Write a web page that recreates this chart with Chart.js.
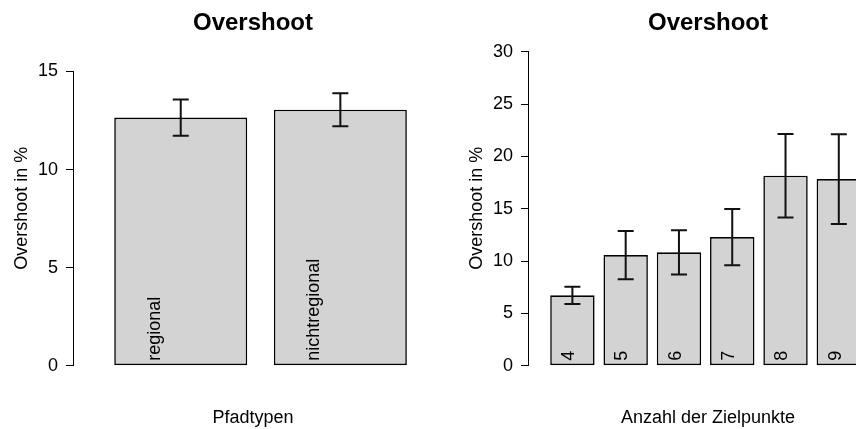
<!DOCTYPE html>
<html>
<head>
<meta charset="utf-8">
<script src="https://cdn.jsdelivr.net/npm/chart.js@4.4.0/dist/chart.umd.min.js"></script>
<style>
  html, body { margin: 0; padding: 0; background: #fff; overflow: hidden; width: 856px; height: 429px; }
  #left { position: absolute; left: 0; top: 0; }
  #right { position: absolute; left: 428px; top: 0; }
</style>
</head>
<body>
<canvas id="left" width="428" height="429"></canvas>
<canvas id="right" width="500" height="429"></canvas>
<script>
// left panel: Pfadtypen
const pathTypes = ["regional", "nichtregional"];
const pathMeans = [12.65, 13.05];
const pathErrors = [0.92, 0.84];
const pathTicks = [0, 5, 10, 15];

// right panel: Anzahl der Zielpunkte
const targetCounts = ["4", "5", "6", "7", "8", "9"];
const targetMeans = [6.72, 10.57, 10.83, 12.29, 18.15, 17.83];
const targetErrors = [0.83, 2.31, 2.12, 2.69, 3.99, 4.29];
const targetTicks = [0, 5, 10, 15, 20, 25, 30];

const FONT = "'Liberation Sans', Arial, Helvetica, sans-serif";
Chart.defaults.font.family = FONT;
Chart.defaults.color = "#000";

//error bars, labels inside the bars and the R style titles
const rPlot = {
    id: "rPlot",
    afterDatasetsDraw(chart, args, opts) {
        const ctx = chart.ctx;
        const y = chart.scales.y;
        const meta = chart.getDatasetMeta(0);
        const ds = chart.data.datasets[0];
        const y0 = y.getPixelForValue(0);
        ctx.save();
        ctx.fillStyle = "#000";
        ctx.font = "18px " + FONT;
        ctx.textAlign = "left";
        ctx.textBaseline = "alphabetic";
        meta.data.forEach((bar, i) => {
            ctx.save();
            ctx.translate(bar.x + opts.labelShift, y0 - 5);
            ctx.rotate(-Math.PI / 2);
            ctx.fillText(chart.data.labels[i], 0, 0);
            ctx.restore();
        });
        ctx.strokeStyle = "#111";
        ctx.lineWidth = 2;
        meta.data.forEach((bar, i) => {
            const m = ds.data[i].y;
            const e = ds.errors[i];
            const top = y.getPixelForValue(m + e);
            const bot = y.getPixelForValue(m - e);
            ctx.beginPath();
            ctx.moveTo(bar.x, top);
            ctx.lineTo(bar.x, bot);
            ctx.moveTo(bar.x - 8, top);
            ctx.lineTo(bar.x + 8, top);
            ctx.moveTo(bar.x - 8, bot);
            ctx.lineTo(bar.x + 8, bot);
            ctx.stroke();
        });
        ctx.restore();
    },
    afterDraw(chart, args, opts) {
        const ctx = chart.ctx;
        const a = chart.chartArea;
        ctx.save();
        ctx.fillStyle = "#000";
        ctx.textAlign = "center";
        ctx.textBaseline = "alphabetic";
        ctx.font = "bold 24px " + FONT;
        ctx.fillText(opts.main, a.left + 180, 30);
        ctx.font = "18px " + FONT;
        ctx.fillText(opts.xlab, a.left + 180, 423);
        ctx.translate(a.left - 46.5, a.bottom - 157.5);
        ctx.rotate(-Math.PI / 2);
        ctx.fillText(opts.ylab, 0, 0);
        ctx.restore();
    }
};

const makeChart = (id, labels, means, errors, yTicks, layout) => {
    // R barplot positions: bar i spans 0.2 + 1.2 i .. 1.2 + 1.2 i
    const points = means.map((v, i) => ({ x: 0.7 + 1.2 * i, y: v }));
    return new Chart(document.getElementById(id), {
        type: "bar",
        data: {
            labels: labels,
            datasets: [{
                data: points,
                errors: errors,
                backgroundColor: "#d3d3d3",
                borderColor: "#000",
                borderWidth: 1.6,
                borderSkipped: false,
                categoryPercentage: 1,
                barPercentage: 1 / 1.2,
            }],
        },
        options: {
            responsive: false,
            animation: false,
            devicePixelRatio: 1,
            layout: { padding: { top: layout.top, bottom: 63.3, left: 0, right: 0 } },
            scales: {
                x: {
                    type: "linear",
                    display: false,
                    min: layout.xMin,
                    max: layout.xMax,
                    afterBuildTicks: (s) => { s.ticks = []; },
                },
                y: {
                    min: 0,
                    max: yTicks[yTicks.length - 1],
                    afterBuildTicks: (s) => { s.ticks = yTicks.map(v => ({ value: v })); },
                    afterFit: (s) => { s.width = layout.axisWidth; },
                    border: { display: true, color: "#000", width: 1 },
                    grid: { drawOnChartArea: false, drawTicks: true, tickLength: 7, color: "#000" },
                    ticks: { padding: 8, color: "#000", font: { size: 18 } },
                },
            },
            plugins: {
                legend: { display: false },
                tooltip: { enabled: false },
                rPlot: {
                    main: "Overshoot",
                    xlab: layout.xlab,
                    ylab: "Overshoot in %",
                    labelShift: layout.labelShift,
                },
            },
        },
        plugins: [rPlot],
    });
};

makeChart("left", pathTypes, pathMeans, pathErrors, pathTicks, {
    top: 71.5, axisWidth: 73, xMin: -0.11, xMax: 2.559, labelShift: -21, xlab: "Pfadtypen",
});

makeChart("right", targetCounts, targetMeans, targetErrors, targetTicks, {
    top: 51.7, axisWidth: 100, xMin: -0.30, xMax: 8.709, labelShift: 1.8, xlab: "Anzahl der Zielpunkte",
});
</script>
</body>
</html>
